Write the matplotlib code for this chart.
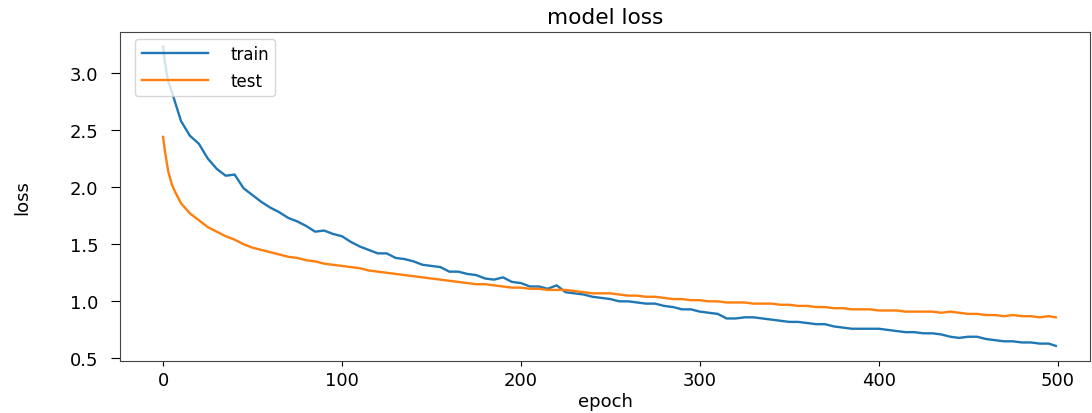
import matplotlib
matplotlib.use("Agg")
import matplotlib.pyplot as plt

train_epochs = [0, 1, 2, 3] + list(range(5, 500, 5)) + [499]
test_epochs = [0, 1, 2, 3, 5, 7] + list(range(10, 500, 5)) + [499]

train_loss = [3.23, 3.10, 3.00, 2.92,
              2.83, 2.58, 2.45, 2.38, 2.25, 2.16, 2.10, 2.11, 1.99, 1.93,
              1.87, 1.82, 1.78, 1.73, 1.70, 1.66, 1.61, 1.62, 1.59, 1.57,
              1.52, 1.48, 1.45, 1.42, 1.42, 1.38, 1.37, 1.35, 1.32, 1.31,
              1.30, 1.26, 1.26, 1.24, 1.23, 1.20, 1.19, 1.21, 1.17, 1.16,
              1.13, 1.13, 1.11, 1.14, 1.08, 1.07, 1.06, 1.04, 1.03, 1.02,
              1.00, 1.00, 0.99, 0.98, 0.98, 0.96, 0.95, 0.93, 0.93, 0.91,
              0.90, 0.89, 0.85, 0.85, 0.86, 0.86, 0.85, 0.84, 0.83, 0.82,
              0.82, 0.81, 0.80, 0.80, 0.78, 0.77, 0.76, 0.76, 0.76, 0.76,
              0.75, 0.74, 0.73, 0.73, 0.72, 0.72, 0.71, 0.69, 0.68, 0.69,
              0.69, 0.67, 0.66, 0.65, 0.65, 0.64, 0.64, 0.63, 0.63,
              0.61]

test_loss = [2.44, 2.32, 2.22, 2.13, 2.02, 1.95,
             1.86, 1.77, 1.71, 1.65, 1.61, 1.57, 1.54, 1.50, 1.47, 1.45,
             1.43, 1.41, 1.39, 1.38, 1.36, 1.35, 1.33, 1.32, 1.31, 1.30,
             1.29, 1.27, 1.26, 1.25, 1.24, 1.23, 1.22, 1.21, 1.20, 1.19,
             1.18, 1.17, 1.16, 1.15, 1.15, 1.14, 1.13, 1.12, 1.12, 1.11,
             1.11, 1.10, 1.10, 1.10, 1.09, 1.08, 1.07, 1.07, 1.07, 1.06,
             1.05, 1.05, 1.04, 1.04, 1.03, 1.02, 1.02, 1.01, 1.01, 1.00,
             1.00, 0.99, 0.99, 0.99, 0.98, 0.98, 0.98, 0.97, 0.97, 0.96,
             0.96, 0.95, 0.95, 0.94, 0.94, 0.93, 0.93, 0.93, 0.92, 0.92,
             0.92, 0.91, 0.91, 0.91, 0.91, 0.90, 0.91, 0.90, 0.89, 0.89,
             0.88, 0.88, 0.87, 0.88, 0.87, 0.87, 0.86, 0.87,
             0.86]

x_ticks = [0, 100, 200, 300, 400, 500]
y_ticks = [0.5, 1.0, 1.5, 2.0, 2.5, 3.0]

plt.rcParams['font.size'] = 13

fig = plt.figure(figsize=(10.92, 4.14), dpi=100)
ax = fig.add_axes([0.11, 0.126, 0.888, 0.795])

ax.plot(train_epochs, train_loss, color='#1f77b4', lw=1.7, label='train')
ax.plot(test_epochs, test_loss, color='#ff7f0e', lw=1.7, label='test')

ax.set_xlim(-24, 518)
ax.set_xticks(x_ticks)
ax.set_yticks(y_ticks)
ax.tick_params(axis='y', length=6.5, pad=9)
ax.tick_params(axis='x', length=3.5, pad=4)
for sp in ax.spines.values():
    sp.set_color('#444444')
ax.set_title('model loss')
ax.set_xlabel('epoch', labelpad=2)
ax.set_ylabel('loss', labelpad=28)
ax.legend(loc='upper left', bbox_to_anchor=(0.0155, 0.979), borderaxespad=0,
          fontsize=12, handlelength=4.0, handletextpad=1.3)

fig.savefig('out.png', dpi=100)
